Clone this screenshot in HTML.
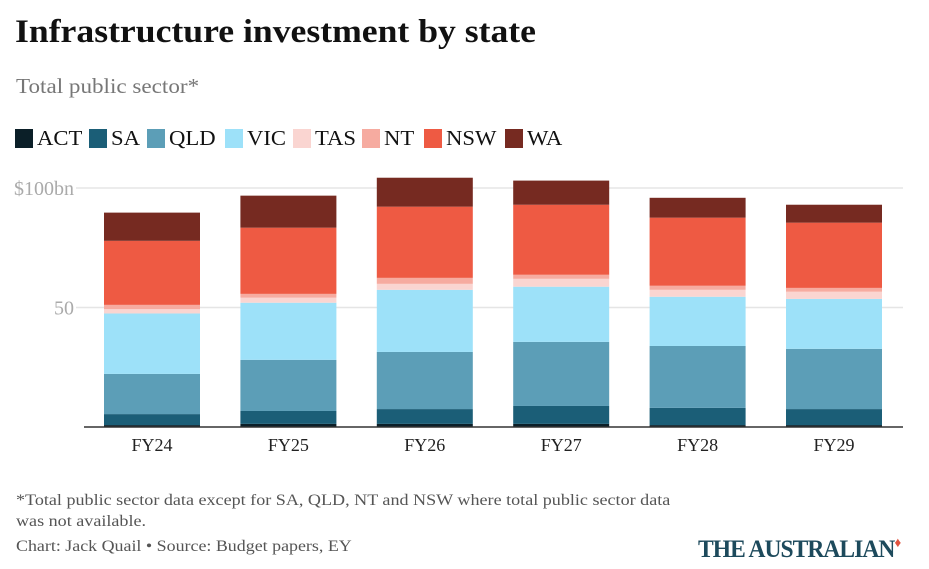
<!DOCTYPE html>
<html><head><meta charset="utf-8"><style>
body{margin:0;width:929px;height:569px;background:#fff;font-family:"Liberation Serif",serif;overflow:hidden;position:relative}
.abs{position:absolute;white-space:nowrap;transform-origin:left top}
.lg{position:absolute;top:129px;height:19px;font-size:21px;color:#111;line-height:19px;white-space:nowrap}
.lg span{display:inline-block;width:18px;height:19px;vertical-align:top;margin-right:4px}
.lg b{font-weight:normal;display:inline-block;transform:scaleX(1.08);transform-origin:left}
</style></head><body>
<div class="abs" style="left:15px;top:14px;font-size:33px;font-weight:bold;color:#111;transform:scaleX(1.08)">Infrastructure investment by state</div>
<div class="abs" style="left:16px;top:74px;font-size:21px;color:#777;transform:scaleX(1.1)">Total public sector*</div>
<div id="legend"></div>
<svg id="chart" width="929" height="569" style="position:absolute;left:0;top:0"></svg>
<div class="abs" style="left:16px;top:490px;font-size:16px;color:#555;line-height:21px;transform:scaleX(1.13)">*Total public sector data except for SA, QLD, NT and NSW where total public sector data<br>was not available.</div>
<div class="abs" style="left:16px;top:538px;font-size:16px;color:#555;transform:scaleX(1.12)">Chart: Jack Quail • Source: Budget papers, EY</div>
<div class="abs" style="left:698px;top:536px;font-size:25px;font-weight:bold;color:#1d4a5c;letter-spacing:-1px;transform:scaleX(0.94)">THE AUSTRALIAN<span style="color:#e0533f;font-size:14px;vertical-align:top">♦</span></div>
<script>
const categories=["FY24","FY25","FY26","FY27","FY28","FY29"];
const series=["ACT","SA","QLD","VIC","TAS","NT","NSW","WA"];
const colors=["#0b1f28","#1b5e77","#5c9eb7","#9de1f9","#fad5d1","#f6aba0","#ee5a43","#762a21"];
const ACT=[0.8,1.3,1.3,1.3,0.8,0.8];
const SA=[4.6,5.4,6.2,7.5,7.2,6.7];
const QLD=[16.8,21.4,23.9,26.8,25.9,25.2];
const VIC=[25.3,23.9,26.0,23.1,20.6,20.9];
const TAS=[1.8,2.1,2.5,3.3,2.9,3.0];
const NT=[1.8,1.6,2.5,1.7,1.7,1.6];
const NSW=[26.8,27.7,29.8,29.3,28.5,27.3];
const WA=[11.8,13.4,12.1,10.1,8.3,7.5];
const ticks=[50,100];
const tickLabels=["50","$100bn"];
const data=[ACT,SA,QLD,VIC,TAS,NT,NSW,WA];
const NS="http://www.w3.org/2000/svg";
const svg=document.getElementById('chart');
const y=v=>427-v*2.39;
const x0=84,step=136.4,bw=96;
const x=i=>x0+20+i*step;
function mk(t,a){const e=document.createElementNS(NS,t);for(const k in a)e.setAttribute(k,a[k]);svg.appendChild(e);return e;}
ticks.forEach((t,i)=>{
 const g=mk('line',{x1:76,x2:903,y1:y(t),y2:y(t),stroke:'#e5e5e5','stroke-width':1.5});
 
 
 const tx=mk('text',{x:74,y:y(t)+7,'text-anchor':'end','font-size':20,fill:'#aaa','font-family':'Liberation Serif, serif'});
 tx.textContent=tickLabels[i];
 
 
});
categories.forEach((c,i)=>{
 let cum=0;
 series.forEach((s,j)=>{
  const v=data[j][i];
  const r=mk('rect',{x:x(i),y:y(cum+v),width:bw,height:v*2.39,fill:colors[j]});
  
  
  cum+=v;
 });
 const t=mk('text',{x:x(i)+bw/2,y:451,'text-anchor':'middle','font-size':18,fill:'#222','font-family':'Liberation Serif, serif'});
 t.textContent=c;
 
 
});
const base=mk('line',{x1:84,x2:903,y1:427,y2:427,stroke:'#333','stroke-width':1.5});


const lgx=[15,89,147,225,293,362,424,505];
const lg=document.getElementById('legend');
series.forEach((s,j)=>{
 const d=document.createElement('div');
 d.className='lg';d.style.left=lgx[j]+'px';
 d.innerHTML='<span style="background:'+colors[j]+'"></span><b>'+s+'</b>';
 
 
 lg.appendChild(d);
});
</script>
</body></html>
